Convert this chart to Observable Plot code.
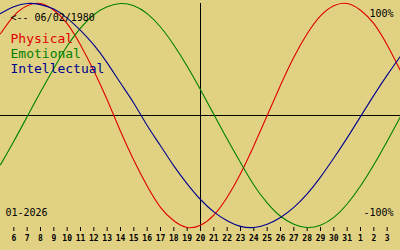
<!DOCTYPE html>
<html><head><meta charset="utf-8">
<script src="https://cdn.jsdelivr.net/npm/d3@7"></script>
<script src="https://cdn.jsdelivr.net/npm/@observablehq/plot@0.6"></script>
<style>html,body{margin:0;padding:0;background:#e0d282;} #chart svg{display:block;}</style>
</head><body><div id="chart"></div>
<script>
const days = [5,6,7,8,9,10,11,12,13,14,15,16,17,18,19,20,21,22,23,24,25,26,27,28,29,30,31,32,33,34,35];
const physical = [73,89,98,100,94,82,63,40,14,-14,-40,-63,-82,-94,-100,-98,-89,-73,-52,-27,0,27,52,73,89,98,100,94,82,63,40];
const emotional = [-44,-23,-1,21,42,62,78,90,97,100,98,91,79,63,44,23,1,-21,-42,-62,-78,-90,-97,-100,-98,-91,-79,-63,-44,-23,-1];
const intellectual = [91,97,100,99,95,87,76,63,47,29,11,-9,-27,-45,-61,-75,-86,-94,-99,-100,-97,-91,-82,-70,-55,-38,-20,-1,18,36,53];
const tickDays = [6,7,8,9,10,11,12,13,14,15,16,17,18,19,20,21,22,23,24,25,26,27,28,29,30,31,32,33,34];
const tickLabels = ["6","7","8","9","10","11","12","13","14","15","16","17","18","19","20","21","22","23","24","25","26","27","28","29","30","31","1","2","3"];
const seriesNames = ["Physical","Emotional","Intellectual"];
const seriesColors = ["#e00000","#008000","#000090"];
const todayDay = [20];
const zeroLevel = [0];
const birthLabel = "<-- 06/02/1980";
const monthLabel = "01-2026";
const topLabel = "100%";
const bottomLabel = "-100%";

const labelOf = new Map(tickDays.map((d, i) => [d, tickLabels[i]]));
const seriesValues = [physical, emotional, intellectual];
const lineMarks = seriesValues.map((vals, s) =>
  Plot.line(days.map((d, i) => ({day: d, value: vals[i]})), {
    x: "day", y: "value", stroke: seriesColors[s], strokeWidth: 1.1, curve: "natural"
  })
);
const legendMarks = seriesNames.map((name, s) =>
  Plot.text([name], {
    frameAnchor: "top-left", textAnchor: "start", lineAnchor: "bottom",
    dx: 10, dy: 39.5 + s * 15, fill: seriesColors[s], fontSize: 13
  })
);

const chart = Plot.plot({
  width: 400, height: 250,
  marginTop: 3, marginBottom: 23, marginLeft: 0, marginRight: 0,
  x: {domain: [5, 35]},
  y: {domain: [-100, 100], axis: null},
  style: {background: "#e0d282", fontFamily: "DejaVu Sans Mono", color: "black"},
  marks: [
    Plot.ruleY(zeroLevel, {stroke: "black", strokeWidth: 1, shapeRendering: "crispEdges"}),
    Plot.ruleX(todayDay, {stroke: "black", strokeWidth: 1, shapeRendering: "crispEdges"}),
    Plot.axisX({ticks: tickDays, tickFormat: d => labelOf.get(d), tickSize: 4, tickPadding: 4,
      fontSize: 8, fontWeight: "bold", label: null, stroke: "black", fill: "black"}),
    ...lineMarks,
    ...legendMarks,
    Plot.text([birthLabel], {frameAnchor: "top-left", textAnchor: "start", lineAnchor: "bottom", dx: 10, dy: 17, fontSize: 10, fill: "black"}),
    Plot.text([topLabel], {frameAnchor: "top-right", textAnchor: "end", lineAnchor: "bottom", dx: -7, dy: 13, fontSize: 10, fill: "black"}),
    Plot.text([bottomLabel], {frameAnchor: "bottom-right", textAnchor: "end", lineAnchor: "bottom", dx: -7, dy: -11.5, fontSize: 10, fill: "black"}),
    Plot.text([monthLabel], {frameAnchor: "bottom-left", textAnchor: "start", lineAnchor: "bottom", dx: 5, dy: -11.5, fontSize: 10, fill: "black"})
  ]
});
document.getElementById("chart").append(chart);
</script>
</body></html>
